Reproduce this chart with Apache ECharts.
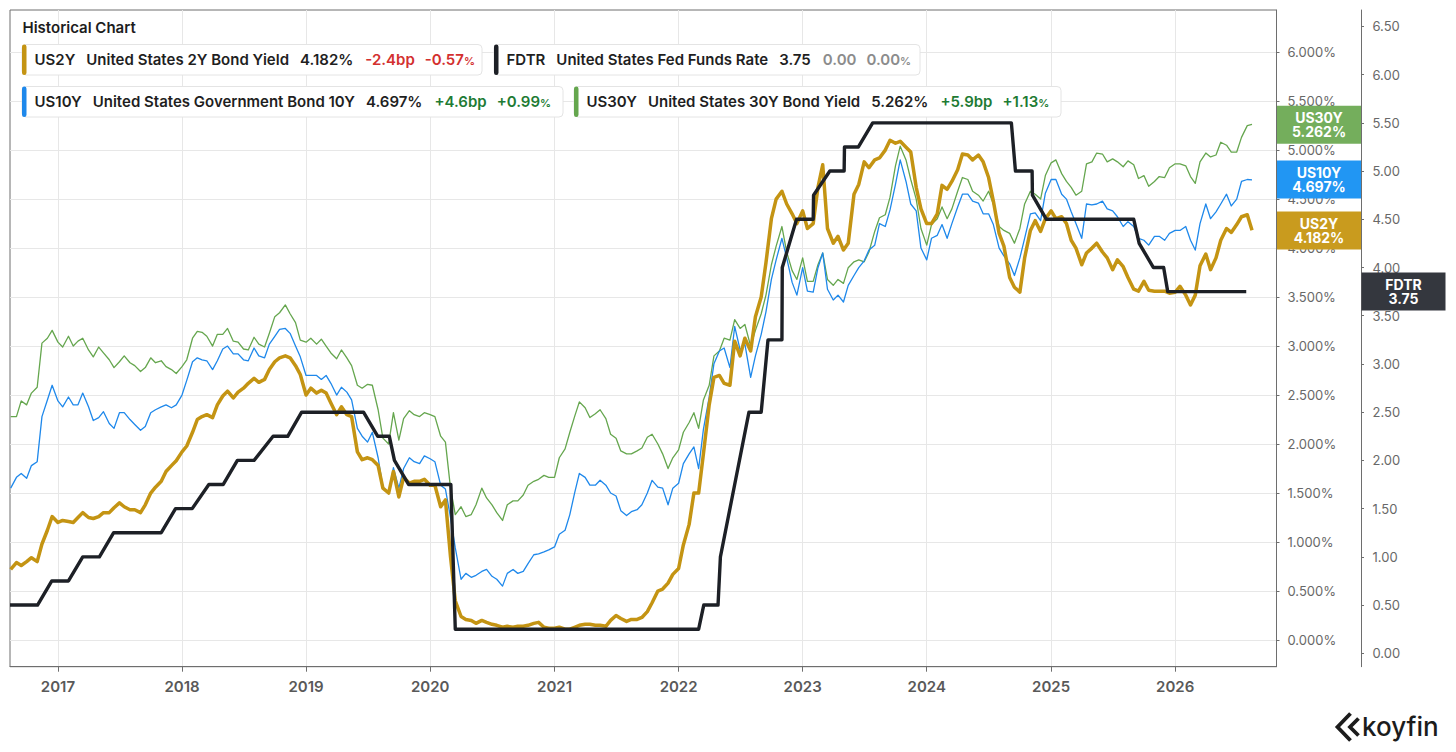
<!DOCTYPE html>
<html>
<head>
<meta charset="utf-8">
<script src="https://cdn.jsdelivr.net/npm/echarts@6/dist/echarts.min.js"></script>
<style>
html,body{margin:0;padding:0;background:#fff;}
#chart{width:1456px;height:752px;}
</style>
</head>
<body>
<div id="chart"></div>
<script>
// ---------- DATA ----------
// semi-monthly sampling dates (1st and 15th of each month)
const sampleDates = [];
for (let y = 2016; y <= 2026; y++) {
  for (let m = 1; m <= 12; m++) {
    for (const d of [1, 15]) {
      const s = y + '-' + String(m).padStart(2, '0') + '-' + String(d).padStart(2, '0');
      if (s >= '2016-08-15' && s <= '2026-08-15') sampleDates.push(s);
    }
  }
}

const us2y = [
  /*2016*/ 0.72,0.79,0.76,0.80,0.84,0.80,0.98,1.12,1.26,
  /*2017*/ 1.20,1.22,1.21,1.20,1.25,1.30,1.25,1.24,1.26,1.30,1.30,1.35,1.40,1.36,1.33,1.33,1.30,1.38,1.50,1.56,1.62,1.72,1.78,1.83,
  /*2018*/ 1.92,1.98,2.12,2.25,2.28,2.30,2.27,2.40,2.49,2.54,2.47,2.53,2.57,2.62,2.67,2.63,2.66,2.76,2.84,2.88,2.90,2.88,2.80,2.71,
  /*2019*/ 2.50,2.57,2.52,2.55,2.52,2.42,2.30,2.38,2.30,2.28,1.92,1.84,1.86,1.84,1.78,1.55,1.50,1.72,1.46,1.66,1.60,1.62,1.62,1.64,
  /*2020*/ 1.58,1.58,1.36,1.43,0.85,0.40,0.24,0.21,0.20,0.17,0.20,0.18,0.16,0.15,0.13,0.14,0.13,0.14,0.14,0.15,0.17,0.18,0.13,0.12,
  /*2021*/ 0.12,0.13,0.11,0.11,0.13,0.15,0.16,0.16,0.15,0.15,0.14,0.20,0.25,0.22,0.19,0.21,0.21,0.23,0.29,0.38,0.50,0.52,0.58,0.67,
  /*2022*/ 0.73,0.97,1.18,1.50,1.50,1.90,2.40,2.68,2.70,2.62,2.60,3.05,2.90,3.08,2.95,3.30,3.50,3.85,4.30,4.50,4.58,4.45,4.35,4.25,
  /*2023*/ 4.38,4.20,4.25,4.62,4.85,4.20,4.05,4.12,3.98,4.05,4.55,4.65,4.88,4.82,4.90,4.92,5.00,5.10,5.07,5.09,5.03,4.98,4.62,4.40,
  /*2024*/ 4.25,4.25,4.35,4.64,4.60,4.68,4.80,4.96,4.95,4.90,4.95,4.88,4.72,4.48,4.15,4.02,3.70,3.60,3.55,3.90,4.18,4.28,4.17,4.30,
  /*2025*/ 4.38,4.30,4.32,4.25,4.08,4.00,3.83,3.95,4.00,4.05,3.96,3.90,3.78,3.88,3.81,3.70,3.58,3.56,3.66,3.57,3.56,3.56,3.56,3.54,
  /*2026*/ 3.55,3.61,3.52,3.42,3.52,3.82,3.94,3.78,3.90,4.08,4.20,4.16,4.24,4.32,4.34,4.182
];

const us10y = [
  /*2016*/ 1.55,1.66,1.70,1.65,1.78,1.82,2.28,2.45,2.60,
  /*2017*/ 2.44,2.38,2.48,2.40,2.40,2.52,2.38,2.24,2.27,2.33,2.21,2.16,2.32,2.32,2.25,2.20,2.14,2.18,2.32,2.35,2.38,2.40,2.37,2.40,
  /*2018*/ 2.50,2.65,2.84,2.88,2.86,2.85,2.76,2.85,2.97,3.00,2.92,2.92,2.86,2.85,2.98,2.90,2.88,3.02,3.10,3.17,3.18,3.13,3.00,2.89,
  /*2019*/ 2.70,2.70,2.70,2.66,2.70,2.62,2.50,2.58,2.53,2.45,2.16,2.08,2.02,2.12,1.86,1.56,1.50,1.76,1.55,1.75,1.86,1.82,1.80,1.88,
  /*2020*/ 1.85,1.82,1.58,1.54,1.25,0.94,0.62,0.68,0.64,0.66,0.70,0.72,0.65,0.62,0.55,0.68,0.72,0.68,0.70,0.78,0.87,0.88,0.90,0.92,
  /*2021*/ 0.95,1.08,1.12,1.28,1.50,1.70,1.66,1.58,1.58,1.63,1.58,1.50,1.47,1.32,1.27,1.31,1.33,1.38,1.50,1.63,1.56,1.55,1.38,1.55,
  /*2022*/ 1.60,1.80,1.90,1.97,1.75,2.15,2.48,2.82,2.95,2.98,2.78,3.20,2.96,3.02,2.68,2.90,3.12,3.35,3.68,3.88,4.10,3.90,3.65,3.52,
  /*2023*/ 3.80,3.56,3.55,3.80,3.95,3.58,3.47,3.52,3.45,3.62,3.72,3.80,3.87,3.98,4.03,4.25,4.22,4.39,4.65,4.90,4.68,4.45,4.38,4.00,
  /*2024*/ 3.88,4.10,4.13,4.24,4.10,4.25,4.42,4.55,4.55,4.48,4.46,4.35,4.35,4.24,4.00,3.92,3.84,3.72,3.90,4.10,4.35,4.36,4.28,4.56,
  /*2025*/ 4.70,4.70,4.55,4.50,4.37,4.25,4.10,4.45,4.44,4.45,4.48,4.40,4.38,4.32,4.22,4.27,4.22,4.10,4.08,4.03,4.12,4.12,4.08,4.15,
  /*2026*/ 4.18,4.18,4.22,4.08,3.98,4.25,4.45,4.30,4.37,4.45,4.55,4.43,4.50,4.68,4.70,4.697
];

const us30y = [
  /*2016*/ 2.28,2.28,2.44,2.40,2.52,2.58,3.03,3.08,3.16,
  /*2017*/ 3.04,2.99,3.10,3.00,3.05,3.08,2.96,2.89,2.99,2.93,2.86,2.78,2.84,2.90,2.83,2.80,2.74,2.78,2.88,2.83,2.85,2.79,2.76,2.72,
  /*2018*/ 2.79,2.86,3.08,3.15,3.14,3.10,3.00,3.12,3.12,3.18,3.05,3.04,2.97,2.96,3.09,3.02,2.99,3.13,3.30,3.34,3.42,3.33,3.24,3.06,
  /*2019*/ 3.04,3.08,3.02,3.07,3.00,2.93,2.87,2.96,2.88,2.80,2.60,2.57,2.61,2.60,2.35,2.06,2.00,2.32,2.04,2.26,2.34,2.30,2.28,2.32,
  /*2020*/ 2.30,2.28,2.08,2.02,1.55,1.28,1.36,1.26,1.28,1.38,1.55,1.45,1.38,1.30,1.22,1.38,1.42,1.42,1.48,1.58,1.62,1.64,1.68,1.66,
  /*2021*/ 1.66,1.86,1.95,2.12,2.28,2.43,2.37,2.27,2.31,2.35,2.26,2.10,2.06,1.93,1.90,1.90,1.93,1.96,2.07,2.10,2.00,1.90,1.75,1.86,
  /*2022*/ 1.94,2.12,2.22,2.32,2.16,2.45,2.60,2.90,2.95,3.08,3.06,3.27,3.18,3.22,3.00,3.16,3.33,3.52,3.83,4.02,4.22,3.96,3.77,3.68,
  /*2023*/ 3.90,3.66,3.66,3.83,3.95,3.68,3.62,3.68,3.64,3.80,3.86,3.88,3.86,3.96,4.17,4.31,4.34,4.52,4.84,5.04,4.90,4.70,4.50,4.20,
  /*2024*/ 4.03,4.24,4.30,4.42,4.30,4.40,4.58,4.72,4.70,4.58,4.54,4.48,4.58,4.45,4.22,4.18,4.15,4.05,4.20,4.45,4.58,4.55,4.50,4.74,
  /*2025*/ 4.87,4.90,4.76,4.68,4.62,4.54,4.58,4.86,4.88,4.97,4.96,4.88,4.91,4.88,4.83,4.89,4.85,4.71,4.74,4.63,4.68,4.73,4.72,4.82,
  /*2026*/ 4.86,4.86,4.84,4.73,4.66,4.88,4.97,4.93,4.95,5.08,5.05,4.98,4.98,5.13,5.25,5.262
];

// Fed funds target (upper bound) at the points where the line bends
const fdtrDates = ['2016-08-13','2016-11-02','2016-12-14','2017-02-01','2017-03-15','2017-05-03','2017-06-14','2017-11-01','2017-12-13','2018-01-31','2018-03-21','2018-05-02','2018-06-13','2018-08-01','2018-09-26','2018-11-08','2018-12-19','2019-06-19','2019-07-31','2019-09-03','2019-09-18','2019-10-30','2020-03-02','2020-03-15','2022-03-01','2022-03-16','2022-04-27','2022-05-04','2022-06-15','2022-07-27','2022-09-01','2022-09-21','2022-11-01','2022-11-02','2022-12-14','2023-02-01','2023-02-02','2023-03-22','2023-05-03','2023-05-04','2023-06-14','2023-07-26','2024-09-06','2024-09-18','2024-11-06','2024-11-07','2024-12-18','2025-09-01','2025-09-17','2025-10-29','2025-11-28','2025-12-10','2026-07-29'];
const fdtrValues = [0.50,0.50,0.75,0.75,1.00,1.00,1.25,1.25,1.50,1.50,1.75,1.75,2.00,2.00,2.25,2.25,2.50,2.50,2.25,2.25,2.00,1.75,1.75,0.25,0.25,0.50,0.50,1.00,1.75,2.50,2.50,3.25,3.25,4.00,4.50,4.50,4.75,5.00,5.00,5.25,5.25,5.50,5.50,5.00,5.00,4.75,4.50,4.50,4.25,4.00,4.00,3.75,3.75];

// tick labels
const yearTicks = [2017,2018,2019,2020,2021,2022,2023,2024,2025,2026];
const leftTicks = [0,0.5,1,1.5,2,2.5,3,3.5,4,4.5,5,5.5,6];
const rightTicks = [0,0.5,1,1.5,2,2.5,3,3.5,4,4.5,5,5.5,6,6.5];

// legend texts
const legendCodes = ['US2Y','FDTR','US10Y','US30Y'];
const legendNames = ['United States 2Y Bond Yield','United States Fed Funds Rate','United States Government Bond 10Y','United States 30Y Bond Yield'];
const legendChanges = ['-2.4bp','0.00','+4.6bp','+5.9bp'];
const legendChangePct = ['-0.57','0.00','+0.99','+1.13'];

// ---------- HELPERS ----------
const ts = s => +new Date(s + 'T00:00:00');
const yearStart = y => +new Date(y, 0, 1);

const FONT = 'Inter, "Noto Sans", "DejaVu Sans", sans-serif';
const C2 = '#c49413', C10 = '#1e88eb', C30 = '#65a64e', CF = '#1d2026';
const B2 = '#c99b1e', B10 = '#2196f3', B30 = '#74ae5c', BF = '#34373e';
const NEG = '#d3302f', POS = '#1e7b34', FLAT = '#8c8c8c';
const INK = '#1f1f1f';

const last = a => a[a.length - 1];
const lastVals = [last(us2y).toFixed(3) + '%', last(fdtrValues).toFixed(2), last(us10y).toFixed(3) + '%', last(us30y).toFixed(3) + '%'];

function pairs(ds, vs) { return ds.map((d, i) => [ts(d), vs[i]]); }

function badge(code, text, bg, dist, value) {
  return {
    silent: true, symbol: ['none', 'none'], animation: false,
    lineStyle: { color: 'rgba(0,0,0,0)', width: 1, type: 'solid' },
    label: {
      show: true, position: 'end', distance: dist, opacity: 1,
      formatter: '{t|' + code + '}\n{t|' + text + '}',
      backgroundColor: bg, padding: [5, 0, 5, 0],
      rich: { t: { width: 84, align: 'center', color: '#fff', fontSize: 14, fontWeight: 700, lineHeight: 14, fontFamily: FONT } }
    },
    emphasis: { disabled: true },
    data: [{ yAxis: value }]
  };
}

function lineSeries(name, data, color, width, yIdx, text, bg, dist, lastValue) {
  return {
    name: name, type: 'line', data: data, yAxisIndex: yIdx,
    showSymbol: false, symbol: 'none', smooth: false,
    lineStyle: { color: color, width: width, join: 'round' },
    itemStyle: { color: color },
    emphasis: { disabled: true },
    markLine: badge(name, text, bg, dist, lastValue)
  };
}

// legend chips
const chipPos = [ [22, 44.5, 460], [494, 44.5, 426], [22, 86.5, 541], [574, 86.5, 487] ];
const chipColors = [C2, CF, C10, C30];
const chipTones = [NEG, FLAT, POS, POS];
function chip(i) {
  const [x, y, w] = chipPos[i];
  const h = 30.5;
  const tone = chipTones[i];
  const base = { fontSize: 15, fontWeight: 600, fontFamily: FONT, fill: INK, lineHeight: 20 };
  return {
    type: 'group', x: x, y: y, silent: true, z: 100,
    children: [
      { type: 'rect', z: 100, shape: { x: 0, y: 0, width: w, height: h, r: 4 }, style: { fill: '#fff', stroke: '#e4e4e4', lineWidth: 1 } },
      { type: 'rect', z: 101, shape: { x: 0, y: 0, width: 4.5, height: h, r: 2.2 }, style: { fill: chipColors[i] } },
      { type: 'text', z: 102, x: 12.5, y: h / 2,
        style: {
          text: '{c|' + legendCodes[i] + '}{n|' + legendNames[i] + '}{v|' + lastVals[i] + '}{d|' + legendChanges[i] + '}{p|' + legendChangePct[i] + '}{s|%}',
          verticalAlign: 'middle', align: 'left',
          rich: {
            c: base,
            n: Object.assign({}, base, { padding: [0, 0, 0, 11] }),
            v: Object.assign({}, base, { padding: [0, 0, 0, 11] }),
            d: Object.assign({}, base, { fill: tone, padding: [0, 0, 0, 12] }),
            p: Object.assign({}, base, { fill: tone, padding: [0, 0, 0, 10] }),
            s: { fontSize: 11, fontWeight: 600, fontFamily: FONT, fill: tone, lineHeight: 20, padding: [3, 0, 0, 0] }
          }
        }
      }
    ]
  };
}

const yearTickValues = yearTicks.map(yearStart);

const option = {
  animation: false,
  backgroundColor: '#ffffff',
  textStyle: { fontFamily: FONT },
  grid: { left: 10, top: 10, right: 179.5, bottom: 85.3, show: true, borderColor: '#6e6e6e', borderWidth: 1, backgroundColor: 'transparent', containLabel: false },
  xAxis: {
    type: 'value', min: ts('2016-08-13'), max: ts('2026-10-26'), scale: true,
    axisLine: { show: true, onZero: false, lineStyle: { color: '#6e6e6e' } },
    axisTick: { show: true, length: 5, lineStyle: { color: '#6e6e6e' }, customValues: yearTickValues },
    axisLabel: {
      customValues: yearTickValues,
      margin: 12, color: '#595959', fontSize: 15, fontWeight: 600, fontFamily: FONT,
      formatter: v => String(new Date(v).getFullYear())
    },
    splitLine: { show: true, lineStyle: { color: '#e7e7e7', width: 1 } }
  },
  yAxis: [
    {
      type: 'value', position: 'right', min: -0.2725, max: 6.43,
      axisLine: { show: true, lineStyle: { color: '#6e6e6e' } },
      axisTick: { show: true, length: 3, lineStyle: { color: '#6e6e6e' }, customValues: leftTicks },
      axisLabel: {
        customValues: leftTicks, margin: 11, color: '#686868', fontSize: 13, fontFamily: FONT,
        formatter: v => v.toFixed(3) + '%'
      },
      splitLine: { show: true, lineStyle: { color: '#e7e7e7', width: 1 } }
    },
    {
      type: 'value', position: 'right', offset: 84.5, min: -0.139, max: 6.67,
      axisLine: { show: true, lineStyle: { color: '#6e6e6e' } },
      axisTick: { show: true, length: 3, lineStyle: { color: '#6e6e6e' }, customValues: rightTicks },
      axisLabel: {
        customValues: rightTicks, margin: 11.5, color: '#686868', fontSize: 13, fontFamily: FONT,
        formatter: v => v.toFixed(2)
      },
      splitLine: { show: false }
    }
  ],
  series: [
    lineSeries('US30Y', pairs(sampleDates, us30y), C30, 1.3, 0, lastVals[3], B30, 0.5, last(us30y)),
    lineSeries('US10Y', pairs(sampleDates, us10y), C10, 1.3, 0, lastVals[2], B10, 0.5, last(us10y)),
    lineSeries('US2Y', pairs(sampleDates, us2y), C2, 3.5, 0, lastVals[0], B2, 0.5, last(us2y)),
    lineSeries('FDTR', pairs(fdtrDates, fdtrValues), CF, 3.4, 1, lastVals[1], BF, 85, last(fdtrValues))
  ],
  graphic: [
    { type: 'text', x: 22.5, y: 27, z: 100, silent: true, style: { text: 'Historical Chart', fontSize: 15, fontWeight: 600, fontFamily: FONT, fill: '#1d1d1d', verticalAlign: 'middle' } },
    chip(0), chip(1), chip(2), chip(3),
    { type: 'polyline', z: 100, silent: true, shape: { points: [[1350.5, 713.5], [1337.5, 727], [1350.5, 740.5]] }, style: { stroke: '#1c1c1c', lineWidth: 3.8, fill: null, lineJoin: 'miter' } },
    { type: 'polyline', z: 100, silent: true, shape: { points: [[1358.5, 718.5], [1350, 727], [1358.5, 735.5]] }, style: { stroke: '#1c1c1c', lineWidth: 3.8, fill: null, lineJoin: 'miter' } },
    { type: 'text', x: 1362, y: 726.5, z: 100, silent: true, style: { text: 'koyfin', fontSize: 26, fontWeight: 500, fontFamily: FONT, fill: '#1c1c1c', verticalAlign: 'middle' } }
  ]
};

const chart = echarts.init(document.getElementById('chart'), null, { renderer: 'svg', width: 1456, height: 752 });
chart.setOption(option);
</script>
</body>
</html>
